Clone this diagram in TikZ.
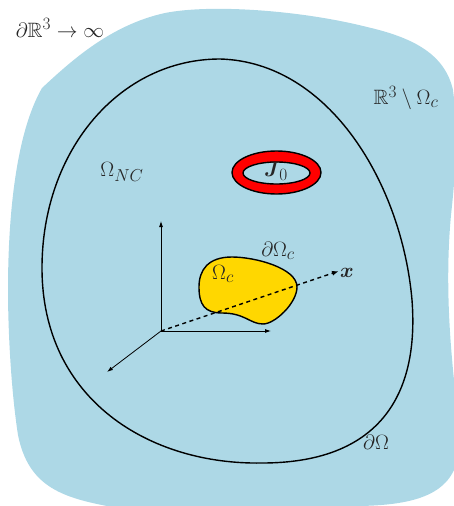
\documentclass[tikz,border=0pt]{standalone}
\usepackage{amsmath,amssymb}
\DeclareMathSizes{20.74}{20.74}{17.28}{14.4}
\usetikzlibrary{arrows.meta}
\tikzset{
  lbl/.style={inner sep=0pt,font=\huge,text=black!85},
  axis/.style={line width=0.8pt,-{Latex[length=6pt,width=4pt]}},
  blob/.style={draw=black,line width=1.4pt}
}
\begin{document}
\begin{tikzpicture}[x=1pt,y=-1pt]
\useasboundingbox (0,0) rectangle (454,506);
% exterior region
\fill[fill={rgb,255:red,173;green,216;blue,230}]
  (42,88) .. controls (70,62) and (110,25) .. (165,13)
  .. controls (210,4) and (300,10) .. (367,27)
  .. controls (415,38) and (445,55) .. (453,90)
  .. controls (458,130) and (456,170) .. (451,215)
  .. controls (445,280) and (450,340) .. (454,380)
  -- (454,470)
  .. controls (440,500) and (400,507) .. (340,506)
  -- (107,506)
  .. controls (60,497) and (28,485) .. (18,435)
  .. controls (11,390) and (8,330) .. (8,290)
  .. controls (8,220) and (15,135) .. (42,88) -- cycle;
% outer boundary
\draw[blob]
  (220,59) .. controls (330,62) and (402,185) .. (412,300)
  .. controls (420,405) and (370,463) .. (262,463)
  .. controls (150,465) and (42,400) .. (42,268)
  .. controls (42,150) and (120,59) .. (220,59) -- cycle;
% ring
\draw[blob,fill=red] (276.5,172.5) ellipse [x radius=44.5,y radius=21.5];
\draw[blob,fill={rgb,255:red,173;green,216;blue,230}] (276.5,173) ellipse [x radius=33.5,y radius=11];
% conductor
\draw[blob,fill={rgb,255:red,255;green,215;blue,0}]
  (199,287) .. controls (199,270) and (208,257) .. (232,257)
  .. controls (255,257) and (297,268) .. (297,287)
  .. controls (297,303) and (275,324) .. (263,324)
  .. controls (250,324) and (245,313) .. (222,313)
  .. controls (205,313) and (199,305) .. (199,287) -- cycle;
% axes
\coordinate (O) at (161,331);
\coordinate (Zt) at (161,221);
\coordinate (Yt) at (271,331);
\coordinate (Xt) at (107,372);
\coordinate (Dt) at (339,271);
\draw[axis] (O) -- (Zt);
\draw[axis] (O) -- (Yt);
\draw[axis] (O) -- (Xt);
\draw[line width=1.4pt,dash pattern=on 4pt off 3.5pt,-{Latex[length=7pt,width=5pt]}] (O) -- (Dt);
% labels
\node[lbl] (a) at (60,28) {$\partial\mathbb{R}^3\to\infty$};
\node[lbl] (b) at (406,98) {$\mathbb{R}^3\setminus\Omega_c$};
\node[lbl] (c) at (122,172) {$\Omega_{NC}$};
\node[lbl] (d) at (276,171) {$\boldsymbol{J}_0$};
\node[lbl] (e) at (278,251) {$\partial\Omega_c$};
\node[lbl] (f) at (223,274) {$\Omega_c$};
\node[lbl] (g) at (376,442) {$\partial\Omega$};
\node[lbl] (h) at (347,273) {$\boldsymbol{x}$};
\end{tikzpicture}
\end{document}
